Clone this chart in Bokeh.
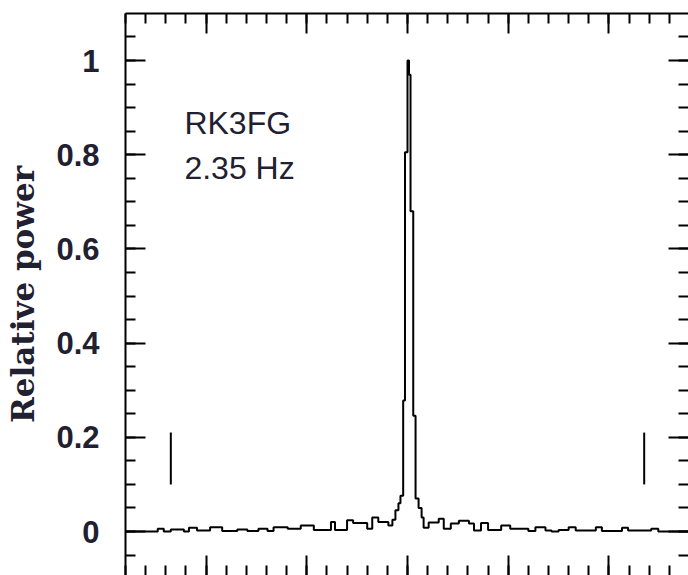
from bokeh.plotting import figure
from bokeh.models import LinearAxis, SingleIntervalTicker, Range1d, Label
from bokeh.embed import file_html
from bokeh.resources import INLINE

# ---- data (frequency offset in Hz, relative power) ----
freq_edges = [-2.80, -2.48, -2.42, -2.35, -2.22, -2.17, -2.09, -1.96, -1.84, -1.69,
              -1.59, -1.48, -1.39, -1.33, -1.19, -1.06, -0.93, -0.76, -0.72, -0.60,
              -0.54, -0.40, -0.35, -0.29, -0.19, -0.15, -0.12, -0.09, -0.07, -0.043,
              -0.025, 0.0, 0.015, 0.03, 0.057, 0.08, 0.11, 0.14, 0.16, 0.21,
              0.31, 0.36, 0.43, 0.51, 0.61, 0.66, 0.73, 0.80, 0.93, 1.02,
              1.20, 1.27, 1.37, 1.43, 1.50, 1.60, 1.67, 1.87, 1.93, 2.13,
              2.19, 2.42, 2.49, 2.80]
power = [0.0, 0.006, 0.0, 0.004, 0.0, 0.008, 0.002, 0.009, 0.001, 0.004,
         0.001, 0.006, 0.001, 0.009, 0.006, 0.013, 0.003, 0.020, 0.003, 0.024,
         0.018, 0.006, 0.030, 0.020, 0.013, 0.025, 0.045, 0.060, 0.076, 0.278,
         0.805, 1.000, 0.970, 0.680, 0.246, 0.070, 0.050, 0.030, 0.008, 0.019,
         0.027, 0.006, 0.017, 0.023, 0.017, 0.002, 0.018, 0.003, 0.013, 0.006,
         0.001, 0.009, 0.002, 0.000, 0.003, 0.009, 0.002, 0.009, 0.001, 0.008,
         0.002, 0.006, 0.000, 0.000]

marker_freqs = [-2.35, 2.35]
marker_low = [0.10, 0.10]
marker_high = [0.21, 0.21]

y_ticks = [0, 0.2, 0.4, 0.6, 0.8, 1.0]
y_tick_labels = ["0", "0.2", "0.4", "0.6", "0.8", "1"]

station = "RK3FG"
freq_text = "2.35 Hz"
y_title = "Relative power"

TEXT = "#1f2030"

p = figure(width=688, height=575, output_backend="svg", toolbar_location=None,
           x_range=Range1d(-2.80, 2.79), y_range=Range1d(-0.0934, 1.0998),
           min_border_left=125, min_border_top=13, min_border_right=0,
           min_border_bottom=0, background_fill_color="white",
           border_fill_color="white")
p.outline_line_color = None
p.xgrid.visible = False
p.ygrid.visible = False


def style_axis(ax, line=True, labels=False):
    ax.major_tick_in = 20
    ax.major_tick_out = 0
    ax.minor_tick_in = 10
    ax.minor_tick_out = 0
    ax.major_tick_line_width = 2
    ax.minor_tick_line_width = 2
    ax.major_tick_line_color = "black"
    ax.minor_tick_line_color = "black"
    ax.axis_line_width = 2
    if line:
        ax.axis_line_color = "black"
    else:
        ax.axis_line_color = None
        ax.axis_line_alpha = 0
    if not labels:
        ax.major_label_text_font_size = "1px"
        ax.major_label_text_color = None
        ax.major_label_standoff = 0
        ax.axis_label = None


xt = lambda: SingleIntervalTicker(interval=1, num_minor_ticks=5)
yt = lambda: SingleIntervalTicker(interval=0.2, num_minor_ticks=4)

p.xaxis.ticker = xt()
style_axis(p.xaxis[0], line=False)

ly = p.yaxis[0]
ly.ticker = yt()
style_axis(ly, line=True, labels=True)
ly.major_label_overrides = {t: s for t, s in zip(y_ticks, y_tick_labels)}
ly.major_label_text_font = "Liberation Sans"
ly.major_label_text_font_style = "bold"
ly.major_label_text_font_size = "31px"
ly.major_label_text_color = TEXT
ly.major_label_standoff = 26
ly.axis_label = y_title
ly.axis_label_text_font = "DejaVu Serif"
ly.axis_label_text_font_style = "bold"
ly.axis_label_text_font_size = "31px"
ly.axis_label_text_color = TEXT
ly.axis_label_standoff = 12

top_ax = LinearAxis(ticker=xt())
style_axis(top_ax, line=True)
p.add_layout(top_ax, "above")
right_ax = LinearAxis(ticker=yt())
style_axis(right_ax, line=False)
p.add_layout(right_ax, "right")

# spectrum as a step line
p.step(freq_edges, power, mode="after", line_color="black", line_width=2)

# markers at +/- 2.35 Hz
p.segment(x0=marker_freqs, y0=marker_low, x1=marker_freqs, y1=marker_high,
          line_color="black", line_width=2)

# annotations
p.add_layout(Label(x=-2.215, y=0.868, text=station, text_align="left",
                   text_baseline="alphabetic", text_font="Liberation Sans",
                   text_font_size="32px", text_color=TEXT))
p.add_layout(Label(x=-2.215, y=0.771, text=freq_text, text_align="left",
                   text_baseline="alphabetic", text_font="Liberation Sans",
                   text_font_size="32px", text_color=TEXT))

open("out.html", "w").write(file_html(p, INLINE))
